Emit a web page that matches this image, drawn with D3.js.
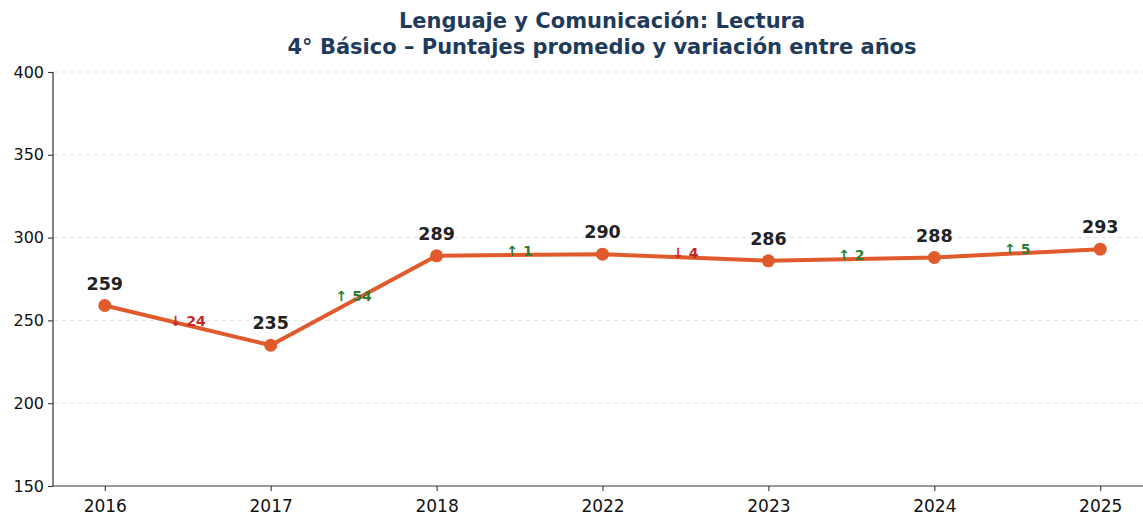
<!DOCTYPE html>
<html>
<head>
<meta charset="utf-8">
<script src="https://cdn.jsdelivr.net/npm/d3@7"></script>
<style>
  body { margin: 0; background: #fff; }
  svg { display: block; font-family: "DejaVu Sans", sans-serif; }
</style>
</head>
<body>
<script>
const years = ["2016", "2017", "2018", "2022", "2023", "2024", "2025"];
const scores = [259, 235, 289, 290, 286, 288, 293];
const yTicks = [150, 200, 250, 300, 350, 400];
const titleLines = ["Lenguaje y Comunicación: Lectura", "4° Básico – Puntajes promedio y variación entre años"];

const w = 1143, h = 517;
const margin = { top: 72, right: -7, bottom: 31, left: 53 };

const svg = d3.select("body").append("svg")
    .attr("width", w)
    .attr("height", h);

const x = d3.scaleLinear()
    .domain([-0.3, years.length - 1 + 0.3])
    .range([margin.left + 2, w - margin.right]);

const y = d3.scaleLinear()
    .domain([150, 400])
    .range([h - margin.bottom, margin.top]);

// title
svg.selectAll(".title")
    .data(titleLines)
    .enter().append("text")
    .attr("x", 602)
    .attr("y", (d, i) => 27.5 + i * 26)
    .attr("text-anchor", "middle")
    .attr("font-size", 21)
    .attr("font-weight", "bold")
    .attr("fill", "#1f3b5c")
    .text(d => d);

// grid
svg.append("g").selectAll("line")
    .data(yTicks.filter(d => d > 150))
    .enter().append("line")
    .attr("x1", margin.left)
    .attr("x2", w)
    .attr("y1", d => y(d))
    .attr("y2", d => y(d))
    .attr("stroke", "#e3e3e3")
    .attr("stroke-width", 1)
    .attr("stroke-dasharray", "5,3");

// axes
const yAxis = svg.append("g")
    .attr("transform", "translate(" + margin.left + ",0)")
    .call(d3.axisLeft(y).tickValues(yTicks).tickSize(5).tickPadding(4));

const xAxis = svg.append("g")
    .attr("transform", "translate(0," + (h - margin.bottom) + ")")
    .call(d3.axisBottom(x).tickValues(d3.range(years.length)).tickFormat(i => years[i]).tickSize(5).tickPadding(9));

[xAxis, yAxis].forEach(g => {
    g.select(".domain").attr("stroke", "#333").attr("stroke-width", 1.2);
    g.selectAll(".tick line").attr("stroke", "#333").attr("stroke-width", 1.1);
    g.selectAll(".tick text")
        .attr("font-family", "DejaVu Sans, sans-serif")
        .attr("fill", "#111");
});
xAxis.selectAll(".tick text").attr("font-size", 17);
yAxis.selectAll(".tick text").attr("font-size", 16);
yAxis.select(".domain").attr("d", "M0," + y(150) + "V" + y(400));
xAxis.select(".domain").attr("d", "M" + margin.left + ",0H" + w);

// line
const line = d3.line()
    .x((d, i) => x(i))
    .y(d => y(d));

svg.append("path")
    .datum(scores)
    .attr("d", line)
    .attr("fill", "none")
    .attr("stroke", "#e05a2b")
    .attr("stroke-width", 4)
    .attr("stroke-linejoin", "round");

svg.selectAll(".dot")
    .data(scores)
    .enter().append("circle")
    .attr("cx", (d, i) => x(i))
    .attr("cy", d => y(d))
    .attr("r", 6.5)
    .attr("fill", "#e05a2b");

// value labels
svg.selectAll(".val")
    .data(scores)
    .enter().append("text")
    .attr("x", (d, i) => x(i))
    .attr("y", d => y(d) - 22)
    .attr("dy", "0.35em")
    .attr("text-anchor", "middle")
    .attr("font-size", 17.5)
    .attr("font-weight", "bold")
    .attr("fill", "#222")
    .text(d => d);

// variation labels between years
const diffs = scores.slice(1).map((d, i) => ({ i: i, diff: d - scores[i], mid: (d + scores[i]) / 2 }));

svg.selectAll(".diff")
    .data(diffs)
    .enter().append("text")
    .attr("x", d => x(d.i + 0.5))
    .attr("y", d => y(d.mid) - 4)
    .attr("dy", "0.35em")
    .attr("text-anchor", "middle")
    .attr("font-size", 14)
    .attr("font-weight", "bold")
    .attr("fill", d => d.diff >= 0 ? "#2e7d32" : "#c62828")
    .text(d => (d.diff >= 0 ? "↑ " : "↓ ") + Math.abs(d.diff));
</script>
</body>
</html>
